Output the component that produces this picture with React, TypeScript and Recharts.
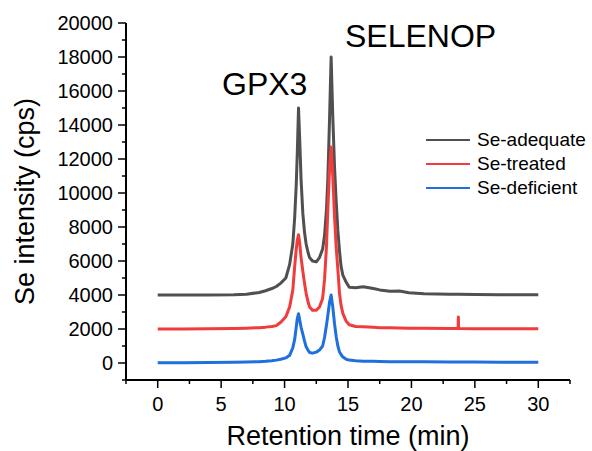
import React from 'react';
import { LineChart, Line, XAxis, YAxis, Legend } from 'recharts';

// Retention time (min)
const times = [
  0, 2, 4, 6, 7, 8, 8.5, 9, 9.35, 9.7,
  10.1, 10.4, 10.65, 10.8, 10.92, 11.0, 11.1, 11.2, 11.3, 11.44,
  11.57, 11.7, 11.85, 11.97, 12.2, 12.5, 12.75, 13.0, 13.15, 13.3,
  13.41, 13.55, 13.67, 13.8, 13.94, 14.07, 14.2, 14.33, 14.45, 14.6,
  14.86, 15.1, 15.6, 16.2, 17, 17.5, 18.3, 19.05, 19.8, 21,
  23, 23.68, 23.7, 23.72, 25, 27, 30,
];

// Se intensity (cps)
const adequate = [
  4000, 4000, 4000, 4020, 4050, 4150, 4250, 4380, 4500, 4700,
  5000, 5800, 7000, 8600, 10500, 12300, 15000, 13000, 10800, 8800,
  7700, 7000, 6500, 6200, 6000, 5950, 6200, 6700, 7500, 9000,
  10800, 14500, 18000, 14500, 11500, 9500, 7800, 6600, 5700, 5150,
  4750, 4450, 4420, 4480, 4380, 4300, 4220, 4230, 4130, 4080,
  4050, 4040, 4040, 4040, 4030, 4020, 4020,
];

const treated = [
  2000, 2000, 2010, 2030, 2050, 2080, 2110, 2150, 2200, 2400,
  2720, 3300, 4300, 5700, 6700, 7200, 7550, 7000, 6200, 5400,
  4700, 4100, 3600, 3300, 3100, 3100, 3300, 3800, 4900, 6800,
  9000, 11500, 12700, 11000, 8600, 6800, 5500, 4100, 3400, 2900,
  2450, 2250, 2150, 2130, 2100, 2080, 2070, 2060, 2050, 2040,
  2030, 2030, 2700, 2030, 2020, 2010, 2010,
];

const deficient = [
  20, 20, 30, 40, 60, 80, 100, 130, 170, 220,
  300, 450, 900, 1400, 2100, 2600, 2900, 2500, 2100, 1700,
  1300, 950, 750, 620, 580, 640, 760, 1000, 1500, 2200,
  2800, 3600, 4000, 3300, 2300, 1550, 1000, 650, 500, 350,
  220, 170, 130, 110, 100, 90, 80, 80, 70, 70,
  60, 60, 60, 60, 60, 50, 50,
];

const seriesNames = ['Se-adequate', 'Se-treated', 'Se-deficient'];
const seriesKeys = ['adequate', 'treated', 'deficient'];
const seriesColors = ['#505050', '#f03c3c', '#1f6fdc'];

const xTicks = [-2.5, 0, 2.5, 5, 7.5, 10, 12.5, 15, 17.5, 20, 22.5, 25, 27.5, 30, 32.5];
const xLabels = [0, 5, 10, 15, 20, 25, 30];
const yTicks = [-1000, 0, 1000, 2000, 3000, 4000, 5000, 6000, 7000, 8000, 9000, 10000,
  11000, 12000, 13000, 14000, 15000, 16000, 17000, 18000, 19000, 20000];
const yLabels = [0, 2000, 4000, 6000, 8000, 10000, 12000, 14000, 16000, 18000, 20000];

const peakLabels = [
  { text: 'GPX3', x: 222, y: 95 },
  { text: 'SELENOP', x: 345, y: 47 },
];

const data = times.map((t, i) => ({
  t,
  adequate: adequate[i],
  treated: treated[i],
  deficient: deficient[i],
}));

const FONT = '"Liberation Sans", Arial, Helvetica, sans-serif';

const YTick = (props: any) => {
  const { x, y, payload } = props;
  const v = payload.value;
  const major = yLabels.includes(v);
  return (
    <g>
      <line x1={x} x2={x - (major ? 8 : 4)} y1={y} y2={y} stroke="#000" strokeWidth={1.5} />
      {major && (
        <text x={x - 13} y={y} dy="0.36em" textAnchor="end" fontSize={20} fontFamily={FONT} fill="#000">
          {v}
        </text>
      )}
    </g>
  );
};

const XTick = (props: any) => {
  const { x, y, payload } = props;
  const v = payload.value;
  const major = xLabels.includes(v);
  return (
    <g>
      <line x1={x} x2={x} y1={y} y2={y + (major ? 8 : 4)} stroke="#000" strokeWidth={1.5} />
      {major && (
        <text x={x} y={y + 31} textAnchor="middle" fontSize={20} fontFamily={FONT} fill="#000">
          {v}
        </text>
      )}
    </g>
  );
};

const YLabel = (props: any) => {
  const { viewBox } = props;
  const cy = viewBox.y + viewBox.height / 2;
  const cx = 34;
  return (
    <text x={cx} y={cy} transform={`rotate(-90, ${cx}, ${cy})`} textAnchor="middle" fontSize={27} fontFamily={FONT} fill="#000">
      Se intensity (cps)
    </text>
  );
};

const XLabel = (props: any) => {
  const { viewBox } = props;
  const cx = viewBox.x + viewBox.width / 2;
  return (
    <text x={cx} y={445} textAnchor="middle" fontSize={27} fontFamily={FONT} fill="#000">
      Retention time (min)
    </text>
  );
};

const LegendContent = () => (
  <div style={{ fontFamily: FONT, fontSize: 19, color: '#000' }}>
    {seriesNames.map((n, i) => (
      <div key={n} style={{ display: 'flex', alignItems: 'center', height: 24 }}>
        <div style={{ width: 44, height: 2, background: seriesColors[i], marginRight: 7 }} />
        <span style={{ lineHeight: '24px' }}>{n}</span>
      </div>
    ))}
  </div>
);

export default function App() {
  return (
    <div style={{ position: 'absolute', left: 0, top: 0, width: 592, height: 451, background: '#fff' }}>
      <LineChart width={592} height={451} data={data} margin={{ top: 23, right: 22, bottom: 11, left: 46 }}>
        <XAxis
          dataKey="t"
          type="number"
          domain={[-2.5, 32.5]}
          ticks={xTicks}
          interval={0}
          tickSize={0}
          tickMargin={0}
          tick={<XTick />}
          tickLine={false}
          height={60}
          axisLine={{ stroke: '#000', strokeWidth: 2 }}
          label={<XLabel />}
        />
        <YAxis
          type="number"
          domain={[-1000, 20000]}
          ticks={yTicks}
          interval={0}
          tickSize={0}
          tickMargin={0}
          tick={<YTick />}
          tickLine={false}
          width={80}
          axisLine={{ stroke: '#000', strokeWidth: 2 }}
          label={<YLabel />}
        />
        <Legend
          layout="horizontal"
          verticalAlign="middle"
          align="center"
          wrapperStyle={{ left: 426, top: 128, width: 170, height: 75 }}
          content={<LegendContent />}
        />
        {seriesKeys.map((k, i) => (
          <Line
            key={k}
            dataKey={k}
            name={seriesNames[i]}
            stroke={seriesColors[i]}
            strokeWidth={3}
            strokeLinejoin="round"
            dot={false}
            type="linear"
            isAnimationActive={false}
          />
        ))}
      </LineChart>
      <svg width={592} height={451} style={{ position: 'absolute', left: 0, top: 0, pointerEvents: 'none' }}>
        {peakLabels.map((p) => (
          <text key={p.text} x={p.x} y={p.y} fontSize={32} fontFamily={FONT} fill="#000">
            {p.text}
          </text>
        ))}
      </svg>
    </div>
  );
}
